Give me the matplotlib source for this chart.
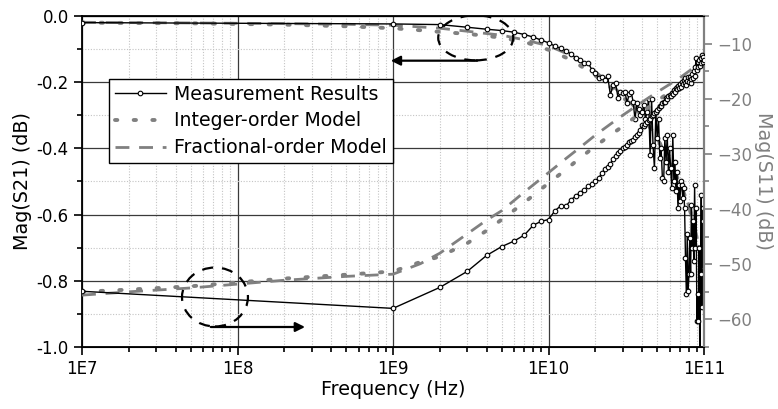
import numpy as np
import matplotlib
matplotlib.use("Agg")
import matplotlib.pyplot as plt
from matplotlib.patches import Ellipse
from matplotlib.ticker import FixedLocator, NullFormatter, MultipleLocator

plt.rcParams["font.family"] = ["DejaVu Sans"]

# measured S-parameters: 10 MHz, then 1..100 GHz in 1 GHz steps
f_meas_ghz = np.concatenate([[0.01], np.arange(1, 101)])

s21_meas = [
    -0.020,
    -0.024, -0.026, -0.034, -0.040, -0.044, -0.049, -0.056, -0.064, -0.073, -0.081,
    -0.091, -0.098, -0.105, -0.116, -0.126, -0.133, -0.142, -0.141, -0.163, -0.173,
    -0.186, -0.183, -0.192, -0.181, -0.239, -0.208, -0.203, -0.248, -0.229, -0.232,
    -0.229, -0.262, -0.236, -0.229, -0.259, -0.312, -0.262, -0.281, -0.300, -0.290,
    -0.270, -0.310, -0.290, -0.250, -0.420, -0.250, -0.390, -0.460, -0.290, -0.370,
    -0.310, -0.430, -0.400, -0.490, -0.500, -0.370, -0.440, -0.360, -0.470, -0.400,
    -0.460, -0.520, -0.360, -0.500, -0.440, -0.530, -0.470, -0.580, -0.510, -0.560,
    -0.500, -0.510, -0.550, -0.520, -0.580, -0.730, -0.840, -0.660, -0.830, -0.780,
    -0.670, -0.780, -0.570, -0.700, -0.620, -0.740, -0.510, -0.700, -0.580, -0.920,
    -0.840, -0.920, -0.700, -1.050, -0.780, -0.540, -0.880, -0.580, -0.620, -0.760,
]

s11_meas = [
    -54.9,
    -58.0, -54.2, -51.3, -48.4, -46.8, -45.8, -44.7, -42.9, -42.2, -41.9,
    -40.3, -39.4, -39.4, -38.3, -37.6, -37.0, -36.5, -35.9, -35.4, -34.9,
    -34.4, -33.5, -32.8, -32.3, -31.8, -30.9, -30.3, -29.8, -29.5, -29.0,
    -28.7, -28.3, -27.9, -27.7, -27.4, -27.0, -26.6, -26.3, -25.6, -24.8,
    -24.9, -24.5, -24.3, -23.9, -23.7, -23.2, -23.0, -22.5, -22.4, -22.0,
    -21.7, -21.3, -21.4, -20.8, -20.6, -20.5, -19.9, -20.1, -19.5, -19.3,
    -19.5, -18.9, -19.1, -18.4, -18.7, -18.0, -18.3, -17.6, -18.1, -17.4,
    -17.8, -17.0, -17.4, -16.6, -17.2, -16.3, -17.5, -16.7, -16.1, -16.9,
    -16.0, -17.1, -16.4, -15.5, -16.2, -15.0, -15.8, -14.3, -12.6, -14.8,
    -13.4, -14.2, -13.0, -14.0, -12.7, -13.6, -12.0, -13.3, -12.4, -12.9,
]

# model curves
f_model_ghz = [0.01, 0.02, 0.05, 0.1, 0.2, 0.5, 1, 1.5, 2, 3, 4, 5, 7, 10,
               13, 16, 20, 25, 30, 40, 50, 60, 70, 80, 90, 100]

s21_int = [-0.020, -0.021, -0.022, -0.024, -0.026, -0.031, -0.037, -0.043, -0.048,
           -0.054, -0.060, -0.066, -0.078, -0.102, -0.126, -0.150, -0.180, -0.215,
           -0.245, -0.300, -0.370, -0.440, -0.505, -0.575, -0.665, -0.800]
s21_frac = [-0.019, -0.020, -0.021, -0.022, -0.023, -0.025, -0.028, -0.033, -0.037,
            -0.046, -0.053, -0.058, -0.072, -0.090, -0.113, -0.137, -0.168, -0.205,
            -0.240, -0.298, -0.368, -0.440, -0.505, -0.575, -0.665, -0.810]

s11_int = [-55.0, -54.6, -54.0, -53.3, -52.6, -51.9, -51.3, -49.6, -48.6, -46.2,
           -43.9, -41.9, -38.8, -35.3, -32.8, -30.7, -28.6, -26.6, -25.0, -22.4,
           -20.4, -18.8, -17.4, -16.2, -15.1, -14.1]
s11_frac = [-55.6, -55.0, -54.3, -53.6, -52.9, -52.2, -51.8, -49.9, -48.0, -44.5,
            -42.0, -40.3, -36.9, -33.4, -30.8, -28.8, -26.6, -24.6, -23.0, -20.6,
            -18.8, -17.4, -16.2, -15.0, -14.0, -13.1]

x_ticks = [1e7, 1e8, 1e9, 1e10, 1e11]
x_tick_labels = ["1E7", "1E8", "1E9", "1E10", "1E11"]

GRAY = "#808080"

f_meas = f_meas_ghz * 1e9
f_model = np.array(f_model_ghz) * 1e9

fig = plt.figure(figsize=(7.78, 4.09), dpi=100)
ax = fig.add_axes([0.1054, 0.1516, 0.7995, 0.8093])
ax2 = ax.twinx()

meas_kw = dict(color="black", lw=1.0, marker="o", ms=3.3, mfc="white",
               mec="black", mew=0.8)
dot_kw = dict(color=GRAY, lw=2.8, ls=(0, (0.6, 4.2)), dash_capstyle="round")
dash_kw = dict(color=GRAY, lw=2.0, ls=(0, (5, 3.5)))

l_meas, = ax.plot(f_meas, s21_meas, zorder=4, **meas_kw)
l_int, = ax.plot(f_model, s21_int, zorder=3, **dot_kw)
l_frac, = ax.plot(f_model, s21_frac, zorder=3, **dash_kw)

ax2.plot(f_meas, s11_meas, zorder=4, **meas_kw)
ax2.plot(f_model, s11_int, zorder=3, **dot_kw)
ax2.plot(f_model, s11_frac, zorder=3, **dash_kw)

ax.set_xscale("log")
ax.set_xlim(1e7, 1e11)
ax.set_ylim(-1.0, 0.0)
ax2.set_ylim(-65, -5)

ax.xaxis.set_major_locator(FixedLocator(x_ticks))
ax.set_xticklabels(x_tick_labels)
ax.xaxis.set_minor_locator(FixedLocator(
    [m * 10.0 ** e for e in range(7, 11) for m in range(2, 10)]))
ax.xaxis.set_minor_formatter(NullFormatter())

ax.yaxis.set_major_locator(MultipleLocator(0.2))
ax.yaxis.set_minor_locator(MultipleLocator(0.1))
ax.yaxis.set_major_formatter(plt.FuncFormatter(lambda v, _: f"{v:.1f}"))
ax2.yaxis.set_major_locator(FixedLocator([-60, -50, -40, -30, -20, -10]))
ax2.yaxis.set_minor_locator(FixedLocator([-65, -55, -45, -35, -25, -15, -5]))

ax.grid(which="major", color="#3a3a3a", lw=0.9, ls="-")
ax.grid(which="minor", color="#c4c4c4", lw=0.8, ls=(0, (1, 1.5)))
ax.set_axisbelow(True)

ax.tick_params(which="both", direction="out", labelsize=12, width=1.2)
ax.tick_params(which="major", length=6)
ax.tick_params(which="minor", length=3.5)
ax.tick_params(axis="x", which="both", top=False)
ax2.tick_params(which="both", direction="out", colors=GRAY, labelsize=12, width=1.2)
ax2.tick_params(which="major", length=6)
ax2.tick_params(which="minor", length=3.5)

for side in ["left", "bottom", "top"]:
    ax.spines[side].set_linewidth(1.3)
ax2.spines["right"].set_color(GRAY)
ax2.spines["right"].set_linewidth(1.6)
ax2.spines["left"].set_visible(False)
ax.spines["right"].set_visible(False)

ax.set_xlabel("Frequency (Hz)", fontsize=13.8, labelpad=1)
ax.set_ylabel("Mag(S21) (dB)", fontsize=13.8, labelpad=3)
ax2.set_ylabel("Mag(S11) (dB)", fontsize=13.8, color=GRAY, rotation=270,
               labelpad=15)

leg = ax2.legend([l_meas, l_int, l_frac],
                 ["Measurement Results", "Integer-order Model", "Fractional-order Model"],
                 loc="upper left", bbox_to_anchor=(0.0434, 0.81), borderaxespad=0,
                 fontsize=13.6, fancybox=False, framealpha=1, edgecolor="black",
                 handlelength=2.7, handletextpad=0.45, labelspacing=0.42,
                 borderpad=0.3)
leg.get_frame().set_linewidth(1.0)

# dashed ellipses and arrows marking which axis each group belongs to
ax2.add_patch(Ellipse((0.633, 0.934), 0.1206, 0.136, transform=ax.transAxes,
                      fill=False, ec="black", lw=1.6, ls=(0, (5, 4)), zorder=6))
ax2.add_patch(Ellipse((0.2138, 0.151), 0.106, 0.178, transform=ax.transAxes,
                      fill=False, ec="black", lw=1.6, ls=(0, (5, 4)), zorder=6))
arrow = dict(arrowstyle="-|>", lw=1.6, color="black", mutation_scale=14)
ax2.annotate("", xy=(0.492, 0.865), xytext=(0.640, 0.865),
             xycoords="axes fraction", arrowprops=arrow)
ax2.annotate("", xy=(0.363, 0.0604), xytext=(0.2026, 0.0604),
             xycoords="axes fraction", arrowprops=arrow)

fig.savefig("out.png", dpi=100)
